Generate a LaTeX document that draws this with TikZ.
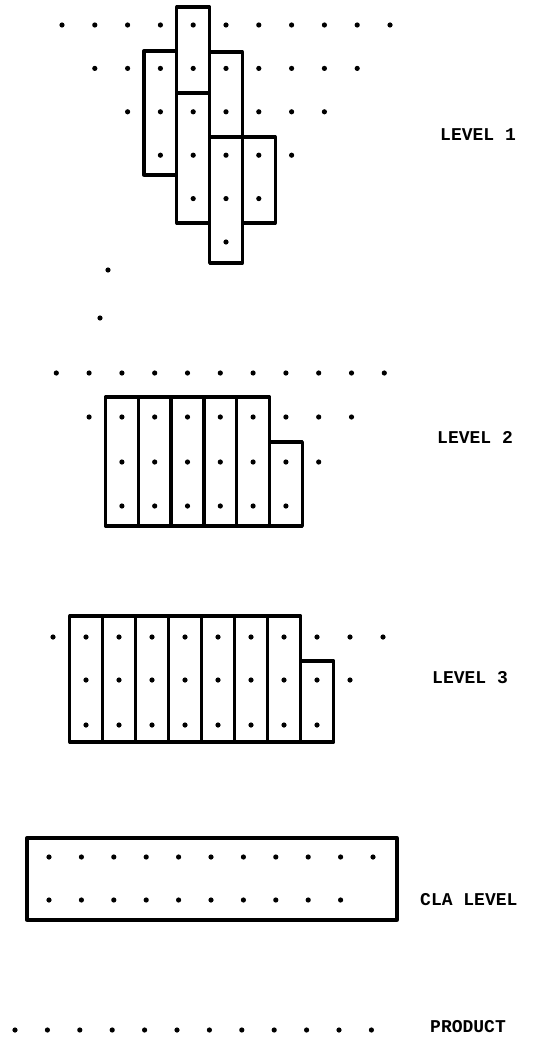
\documentclass[tikz,border=0pt]{standalone}
\usepackage{fontspec}
\setmonofont{Liberation Mono}
\begin{document}
\begin{tikzpicture}[x=1pt,y=-1pt,
  cell/.style={draw=black,line width=3.3pt,line join=round},
  lbl/.style={anchor=west,inner sep=0pt,font=\ttfamily\bfseries\fontsize{18}{20}\selectfont}]
\useasboundingbox (0,0) rectangle (533,1038);
\newcommand{\dotrow}[5]{% start x, step, y, from k, to k
  \foreach \k in {#4,...,#5} \fill ({#1+#2*\k},#3) circle (2.6);}
% ---------------- LEVEL 1 ----------------
\draw[cell] (176.8,7) rectangle (209.6,93);
\draw[cell] (144,51) rectangle (176.8,175);
\draw[cell] (209.6,52) rectangle (242.4,137);
\draw[cell] (176.8,93) rectangle (209.6,223);
\draw[cell] (209.6,137) rectangle (242.4,263);
\draw[cell] (242.4,137) rectangle (275.2,223);
\dotrow{62}{32.8}{25}{0}{10}
\dotrow{62}{32.8}{68.4}{1}{9}
\dotrow{62}{32.8}{111.8}{2}{8}
\dotrow{62}{32.8}{155.2}{3}{7}
\dotrow{62}{32.8}{198.6}{4}{6}
\dotrow{62}{32.8}{242}{5}{5}
\fill (108,270) circle (2.6);
\fill (100,318) circle (2.6);
\node[lbl] (l1) at (440,135) {LEVEL 1};
% ---------------- LEVEL 2 ----------------
\foreach \i in {0,...,4}
  \draw[cell] ({105.5+32.8*\i},397) rectangle ({138.3+32.8*\i},526);
\draw[cell] (269.5,442) rectangle (302.3,526);
\dotrow{56.3}{32.8}{373}{0}{10}
\dotrow{56.3}{32.8}{417}{1}{9}
\dotrow{56.3}{32.8}{462}{2}{8}
\dotrow{56.3}{32.8}{506}{2}{7}
\node[lbl] (l2) at (437,437) {LEVEL 2};
% ---------------- LEVEL 3 ----------------
\foreach \i in {0,...,6}
  \draw[cell] ({69.8+33*\i},616) rectangle ({102.8+33*\i},742);
\draw[cell] (300.8,661) rectangle (333.8,742);
\dotrow{53}{33}{637}{0}{10}
\dotrow{53}{33}{680}{1}{9}
\dotrow{53}{33}{725}{1}{8}
\node[lbl] (l3) at (432,678) {LEVEL 3};
% ---------------- CLA LEVEL ----------------
\draw[cell] (27,838) rectangle (397,920);
\dotrow{49}{32.4}{857}{0}{10}
\dotrow{49}{32.4}{900}{0}{9}
\node[lbl] (cla) at (420,900) {CLA LEVEL};
% ---------------- PRODUCT ----------------
\dotrow{15}{32.4}{1030}{0}{11}
\node[lbl] (prod) at (430,1027) {PRODUCT};
\end{tikzpicture}
\end{document}
